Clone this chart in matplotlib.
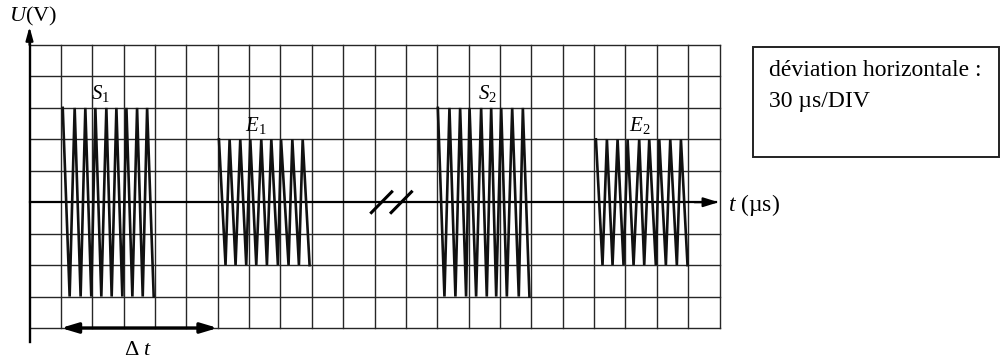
import matplotlib.pyplot as plt
from matplotlib.patches import Rectangle

plt.rcParams['font.family'] = ['Liberation Serif', 'DejaVu Serif']
plt.rcParams['mathtext.fontset'] = 'custom'
plt.rcParams['mathtext.rm'] = 'Liberation Serif'
plt.rcParams['mathtext.it'] = 'Liberation Serif:italic'

# oscillogram, in divisions (30 us/DIV), t axis at U = 0
n_div_x = 22
div_top, div_bottom = 5, -4

# burst peaks / troughs positions (div)
s1_peaks = [1.06, 1.44, 1.78, 2.10, 2.45, 2.77, 3.09, 3.43, 3.75]
s1_troughs = [1.28, 1.63, 1.97, 2.29, 2.62, 2.96, 3.28, 3.61, 3.96]
e1_peaks = [6.04, 6.38, 6.72, 7.04, 7.39, 7.71, 8.02, 8.38, 8.71]
e1_troughs = [6.25, 6.57, 6.91, 7.23, 7.57, 7.92, 8.26, 8.59, 8.93]
s2_peaks = [13.02, 13.39, 13.73, 14.03, 14.40, 14.72, 15.04, 15.39, 15.73]
s2_troughs = [13.23, 13.58, 13.92, 14.24, 14.58, 14.88, 15.22, 15.60, 15.94]
e2_peaks = [18.06, 18.41, 18.75, 19.07, 19.44, 19.76, 20.08, 20.43, 20.77]
e2_troughs = [18.27, 18.59, 18.94, 19.26, 19.60, 19.97, 20.29, 20.64, 20.98]
amp_s = 3.0   # emitted signal, div
amp_e = 2.0   # echo, div

bursts = [
    ("$S_1$", s1_peaks, s1_troughs, amp_s, (2.25, 3.45)),
    ("$E_1$", e1_peaks, e1_troughs, amp_e, (7.22, 2.45)),
    ("$S_2$", s2_peaks, s2_troughs, amp_s, (14.6, 3.45)),
    ("$E_2$", e2_peaks, e2_troughs, amp_e, (19.45, 2.45)),
]

fig = plt.figure(figsize=(10.02, 3.62), dpi=100)
ax = fig.add_axes([29.5 / 1002, 1 - 328 / 362, 690 / 1002, 283 / 362])
ax.set_xlim(0, n_div_x)
ax.set_ylim(div_bottom, div_top)
ax.axis('off')

grid_col = '#262626'
for x in range(1, n_div_x + 1):
    ax.plot([x, x], [div_bottom, div_top], color=grid_col, lw=1.0, clip_on=False)
for y in range(div_bottom, div_top + 1):
    if y == 0:
        continue
    ax.plot([0, n_div_x], [y, y], color=grid_col, lw=1.0, clip_on=False)

# axes
ax.plot([0, 21.9], [0, 0], color='black', lw=1.6, clip_on=False)
ax.annotate("", xy=(21.97, 0), xytext=(21.2, 0),
            arrowprops=dict(arrowstyle='-|>,head_length=0.9,head_width=0.28',
                            color='black', lw=1.5, shrinkA=0, shrinkB=0),
            annotation_clip=False)
ax.plot([0, 0], [-4.45, 5.3], color='black', lw=1.7, clip_on=False)
ax.annotate("", xy=(0, 5.58), xytext=(0, 5.0),
            arrowprops=dict(arrowstyle='-|>,head_length=0.8,head_width=0.22',
                            color='black', lw=1.5, shrinkA=0, shrinkB=0),
            annotation_clip=False)
ax.text(-0.64, 5.9, "$U$(V)", fontsize=16, ha='left', va='center')
ax.text(22.27, -0.08, "$t$ (µs)", fontsize=17, ha='left', va='center')

# bursts
for label, peaks, troughs, amp, (lx, ly) in bursts:
    xs, ys = [], []
    for p, t in zip(peaks, troughs):
        xs += [p, t]
        ys += [amp, -amp]
    ax.plot(xs, ys, color='#111111', lw=1.9, solid_joinstyle='miter')
    ax.text(lx, ly, label, fontsize=15, ha='center', va='center')

# time-axis break
for x0 in [10.9, 11.53]:
    ax.plot([x0, x0 + 0.65], [-0.33, 0.33], color='black', lw=2.2)

# delta t
ax.annotate("", xy=(1.0, -4), xytext=(6.0, -4),
            arrowprops=dict(arrowstyle='<|-|>,head_length=1.0,head_width=0.3',
                            color='black', lw=2.4, shrinkA=0, shrinkB=0),
            annotation_clip=False)
ax.text(3.46, -4.72, r"$\Delta\ t$", fontsize=16, ha='center', va='center')

# info box
fig.patches.append(Rectangle((753 / 1002, 1 - 157 / 362), 246 / 1002, 110 / 362,
                             transform=fig.transFigure, fill=False,
                             edgecolor='#222222', lw=1.4))
fig.text(769 / 1002, 1 - 70 / 362, "déviation horizontale :", fontsize=17,
         ha='left', va='center')
fig.text(769 / 1002, 1 - 101 / 362, "30 µs/DIV", fontsize=17,
         ha='left', va='center')

fig.savefig("out.png", dpi=100, facecolor='white')
